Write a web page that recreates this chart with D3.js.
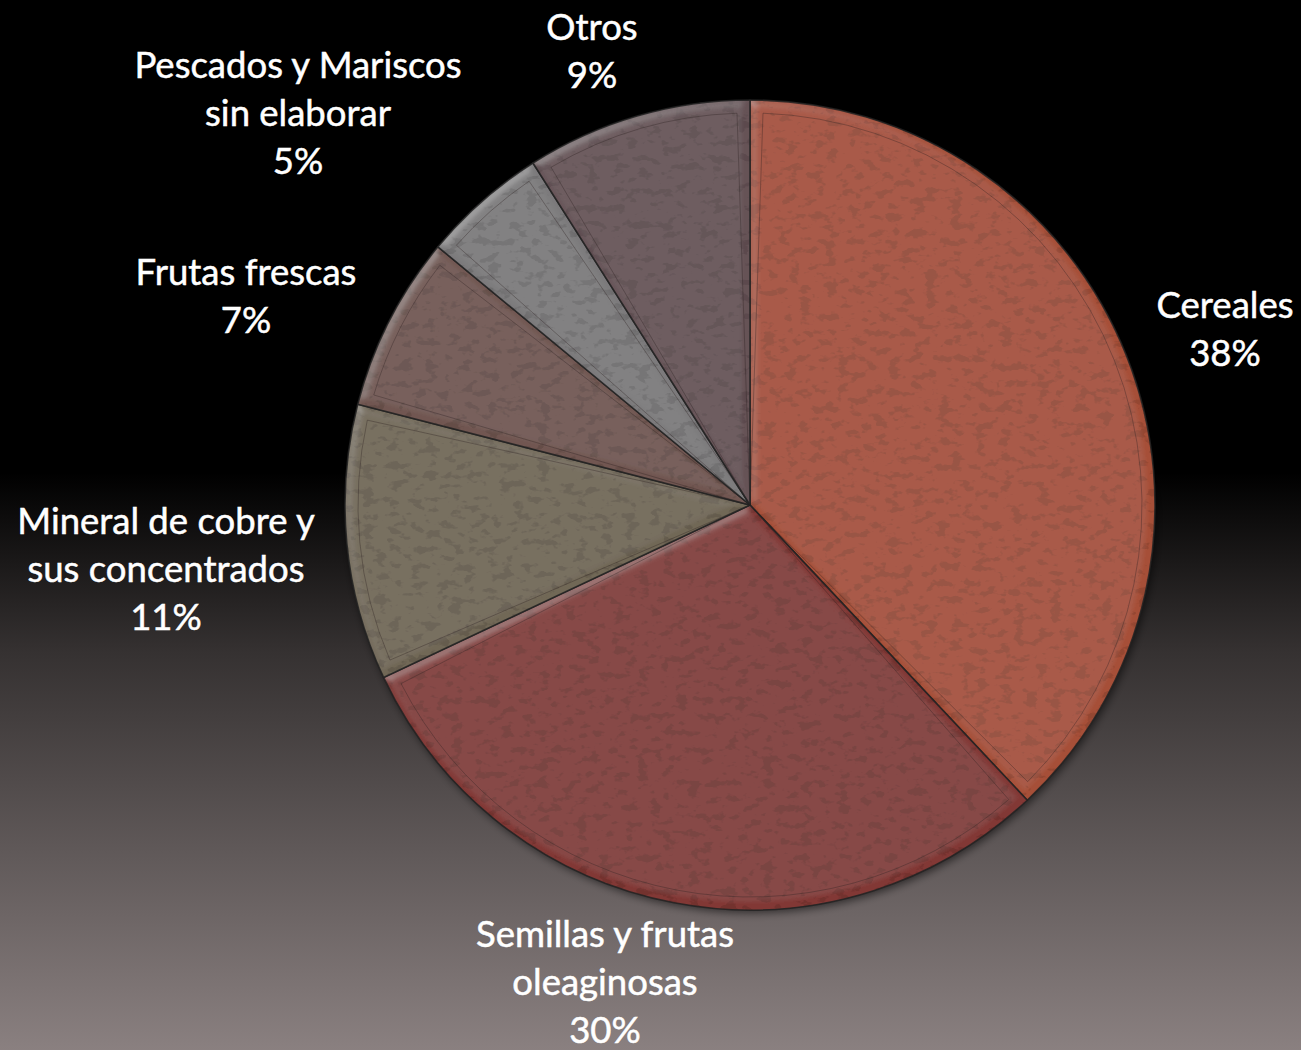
<!DOCTYPE html>
<html>
<head>
<meta charset="utf-8">
<script src="https://cdn.jsdelivr.net/npm/d3@7"></script>
<style>
  html, body { margin: 0; padding: 0; background: #000; }
  svg { display: block; }
</style>
</head>
<body>
<script>
// Export composition by product group (share of total, %)
const categories = [
  "Cereales",
  "Semillas y frutas oleaginosas",
  "Mineral de cobre y sus concentrados",
  "Frutas frescas",
  "Pescados y Mariscos sin elaborar",
  "Otros"
];
const shares = [38, 30, 11, 7, 5, 9];
const labelLines = [
  ["Cereales"],
  ["Semillas y frutas", "oleaginosas"],
  ["Mineral de cobre y", "sus concentrados"],
  ["Frutas frescas"],
  ["Pescados y Mariscos", "sin elaborar"],
  ["Otros"]
];
const sliceColors = ["#b5573d", "#8e3e3a", "#7b725f", "#7c5f59", "#878587", "#6f5b5e"];

// Layout
const W = 1301, H = 1050;
const cx = 750, cy = 505, R = 405;
const lineH = 48;
// label block centres (x, y of the middle of the block)
const labelAnchor = {
  "Cereales": [1225, 328],
  "Semillas y frutas oleaginosas": [605, 981],
  "Mineral de cobre y sus concentrados": [166, 568],
  "Frutas frescas": [246, 295],
  "Pescados y Mariscos sin elaborar": [298, 112],
  "Otros": [592, 50]
};

const svg = d3.select("body").append("svg")
  .attr("width", W).attr("height", H);

const defs = svg.append("defs");

// background: black upper half fading to a warm grey at the bottom
const bg = defs.append("linearGradient").attr("id", "bg")
  .attr("x1", 0).attr("y1", 0).attr("x2", 0).attr("y2", 1);
bg.append("stop").attr("offset", "0").attr("stop-color", "#000");
bg.append("stop").attr("offset", "0.45").attr("stop-color", "#000");
bg.append("stop").attr("offset", "0.62").attr("stop-color", "#353131");
bg.append("stop").attr("offset", "1").attr("stop-color", "#8a8080");
svg.append("rect").attr("width", W).attr("height", H).attr("fill", "url(#bg)");

// fine mottled texture + soft bevel for each wedge
const tex = defs.append("filter").attr("id", "texture")
  .attr("x", "-5%").attr("y", "-5%").attr("width", "110%").attr("height", "110%");
tex.append("feTurbulence").attr("type", "fractalNoise")
  .attr("baseFrequency", "0.08 0.12").attr("numOctaves", 3).attr("seed", 11).attr("result", "noise");
tex.append("feColorMatrix").attr("in", "noise").attr("type", "matrix")
  .attr("values", "0 0 0 0 0  0 0 0 0 0  0 0 0 0 0  10 0 0 0 -5.5").attr("result", "spots");
tex.append("feComposite").attr("in", "spots").attr("in2", "SourceAlpha").attr("operator", "in").attr("result", "spotsIn");
tex.append("feComponentTransfer").attr("in", "spotsIn").attr("result", "spotsSoft")
  .append("feFuncA").attr("type", "linear").attr("slope", 0.22);
// bevel lighting
tex.append("feGaussianBlur").attr("in", "SourceAlpha").attr("stdDeviation", 4).attr("result", "blurA");
const spec = tex.append("feSpecularLighting").attr("in", "blurA").attr("surfaceScale", 3)
  .attr("specularConstant", 0.55).attr("specularExponent", 18)
  .attr("lighting-color", "#ffffff").attr("result", "spec");
spec.append("feDistantLight").attr("azimuth", 225).attr("elevation", 40);
tex.append("feComposite").attr("in", "spec").attr("in2", "SourceAlpha").attr("operator", "in").attr("result", "specIn");
tex.append("feComponentTransfer").attr("in", "specIn").attr("result", "specSoft")
  .append("feFuncA").attr("type", "linear").attr("slope", 0.3);
const merge = tex.append("feMerge");
merge.append("feMergeNode").attr("in", "SourceGraphic");
merge.append("feMergeNode").attr("in", "spotsSoft");
merge.append("feMergeNode").attr("in", "specSoft");

// soft drop shadow beneath the pie
const sh = defs.append("filter").attr("id", "shadow")
  .attr("x", "-10%").attr("y", "-10%").attr("width", "120%").attr("height", "120%");
sh.append("feGaussianBlur").attr("in", "SourceAlpha").attr("stdDeviation", 4).attr("result", "b");
sh.append("feOffset").attr("in", "b").attr("dx", 2).attr("dy", 3).attr("result", "o");
sh.append("feComponentTransfer").attr("in", "o")
  .append("feFuncA").attr("type", "linear").attr("slope", 0.55);

// radial shading per wedge (lighter rim)
sliceColors.forEach((c, i) => {
  const g = defs.append("radialGradient").attr("id", "rg" + i)
    .attr("gradientUnits", "userSpaceOnUse")
    .attr("cx", cx).attr("cy", cy).attr("r", R);
  const base = d3.color(c);
  g.append("stop").attr("offset", "0").attr("stop-color", base.darker(0.05));
  g.append("stop").attr("offset", "0.93").attr("stop-color", base.brighter(0.05));
  g.append("stop").attr("offset", "0.965").attr("stop-color", base.brighter(0.3));
  g.append("stop").attr("offset", "1").attr("stop-color", base.darker(0.25));
});

const pie = d3.pie().sort(null).value(d => d.value);
const data = categories.map((name, i) => ({ name, value: shares[i], color: sliceColors[i], lines: labelLines[i], idx: i }));
const arcs = pie(data);

const arc = d3.arc().innerRadius(0).outerRadius(R);
const inset = 13;
const innerArc = d3.arc().innerRadius(0).outerRadius(R - inset)
  .padRadius(R - inset).padAngle(2 * inset / (R - inset));

const g = svg.append("g").attr("transform", `translate(${cx},${cy})`);

// shadow layer
g.append("g").attr("filter", "url(#shadow)")
  .selectAll("path").data(arcs).join("path")
  .attr("d", arc).attr("fill", "#000");

// wedges
const wedges = g.append("g").selectAll("g").data(arcs).join("g");
wedges.append("path")
  .attr("d", arc)
  .attr("fill", d => `url(#rg${d.data.idx})`)
  .attr("filter", "url(#texture)");
// inner bevel line
wedges.append("path")
  .attr("d", innerArc)
  .attr("fill", "none")
  .attr("stroke", "#2a2020")
  .attr("stroke-opacity", 0.35)
  .attr("stroke-width", 1);
// wedge borders
wedges.append("path")
  .attr("d", arc)
  .attr("fill", "none")
  .attr("stroke", "#222")
  .attr("stroke-opacity", 0.85)
  .attr("stroke-width", 1.6)
  .attr("stroke-linejoin", "round");

// labels
const labels = svg.append("g")
  .attr("font-family", "Lato, 'Open Sans', sans-serif")
  .attr("font-size", 36.5)
  .attr("fill", "#fff")
  .attr("stroke", "#fff")
  .attr("stroke-width", 0.5)
  .attr("text-anchor", "middle");

arcs.forEach(d => {
  const [lx, ly] = labelAnchor[d.data.name];
  const lines = d.data.lines.concat([d3.format(".0%")(d.data.value / 100)]);
  const n = lines.length;
  const t = labels.append("text").attr("x", lx).attr("y", ly);
  lines.forEach((s, k) => {
    t.append("tspan")
      .attr("x", lx)
      .attr("y", ly + (k - (n - 1) / 2) * lineH)
      .attr("dominant-baseline", "central")
      .text(s);
  });
});
</script>
</body>
</html>
